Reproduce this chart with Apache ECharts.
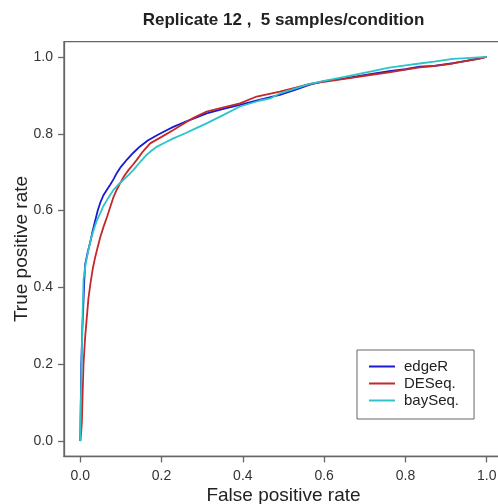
<!DOCTYPE html>
<html>
<head>
<meta charset="utf-8">
<script src="https://cdn.jsdelivr.net/npm/echarts@6/dist/echarts.min.js"></script>
<style>
html,body{margin:0;padding:0;background:#fff;}
#chart{width:498px;height:504px;}
</style>
</head>
<body>
<div id="chart"></div>
<script>
const titleText = 'Replicate 12 ,  5 samples/condition';
const xName = 'False positive rate';
const yName = 'True positive rate';
const tickValues = [0, 0.2, 0.4, 0.6, 0.8, 1.0];
const seriesNames = ['edgeR', 'DESeq.', 'baySeq.'];
const seriesColors = ['#1a1ad0', '#c42828', '#2cc4c8'];

const edgeR = [[0,0],[0.001,0.08],[0.0025,0.2],[0.005,0.29],[0.007,0.34],[0.01,0.42],[0.012,0.46],[0.018,0.49],[0.025,0.52],[0.03,0.545],[0.037,0.575],[0.043,0.6],[0.049,0.62],[0.057,0.64],[0.066,0.655],[0.074,0.668],[0.082,0.682],[0.09,0.698],[0.1,0.714],[0.115,0.733],[0.13,0.75],[0.147,0.767],[0.167,0.783],[0.19,0.797],[0.21,0.808],[0.229,0.818],[0.26,0.832],[0.28,0.84],[0.311,0.853],[0.35,0.864],[0.393,0.875],[0.44,0.888],[0.491,0.901],[0.53,0.915],[0.565,0.928],[0.6,0.937],[0.65,0.944],[0.713,0.955],[0.76,0.963],[0.8,0.968],[0.835,0.975],[0.87,0.977],[0.917,0.984],[0.95,0.99],[0.98,0.996],[1.0,1.0]];

const deseq = [[0,0],[0.002,0.02],[0.004,0.05],[0.006,0.13],[0.008,0.2],[0.012,0.27],[0.016,0.32],[0.02,0.37],[0.025,0.41],[0.031,0.45],[0.037,0.48],[0.043,0.505],[0.049,0.53],[0.057,0.557],[0.066,0.584],[0.074,0.61],[0.082,0.636],[0.09,0.655],[0.098,0.671],[0.108,0.69],[0.119,0.706],[0.13,0.72],[0.139,0.732],[0.155,0.755],[0.172,0.775],[0.2,0.792],[0.229,0.81],[0.26,0.83],[0.28,0.842],[0.311,0.858],[0.35,0.868],[0.393,0.879],[0.434,0.897],[0.491,0.91],[0.53,0.92],[0.565,0.93],[0.6,0.935],[0.65,0.943],[0.713,0.953],[0.76,0.96],[0.8,0.967],[0.835,0.973],[0.87,0.976],[0.917,0.983],[0.95,0.99],[0.98,0.995],[1,1]];

const bayseq = [[0,0],[0.001,0.08],[0.003,0.18],[0.004,0.245],[0.006,0.34],[0.008,0.42],[0.013,0.46],[0.02,0.497],[0.026,0.525],[0.033,0.55],[0.04,0.572],[0.049,0.593],[0.057,0.612],[0.066,0.628],[0.074,0.641],[0.082,0.654],[0.094,0.668],[0.106,0.68],[0.118,0.692],[0.131,0.706],[0.142,0.72],[0.152,0.732],[0.162,0.744],[0.172,0.753],[0.188,0.766],[0.21,0.778],[0.229,0.788],[0.26,0.802],[0.28,0.812],[0.311,0.827],[0.35,0.848],[0.393,0.871],[0.44,0.886],[0.467,0.892],[0.491,0.905],[0.53,0.918],[0.565,0.93],[0.6,0.938],[0.65,0.948],[0.713,0.962],[0.76,0.972],[0.8,0.978],[0.835,0.983],[0.87,0.988],[0.917,0.995],[0.95,0.997],[1,1]];

const seriesData = [edgeR, deseq, bayseq];
const FONT = '"Liberation Sans", Arial, Helvetica, sans-serif';

const chart = echarts.init(document.getElementById('chart'), null, {renderer: 'canvas'});

function axisCommon(name, isX) {
  return {
    type: 'value',
    min: -0.04,
    max: 1.04,
    name: name,
    nameLocation: 'middle',
    nameGap: isX ? 30 : 33,
    nameMoveOverlap: false,
    nameTextStyle: {fontFamily: FONT, fontSize: 19, color: '#222'},
    axisLine: {show: true, onZero: false, lineStyle: {color: '#666', width: 1.3}},
    axisTick: {show: true, customValues: tickValues, length: 6, lineStyle: {color: '#666', width: 1.3}},
    axisLabel: {
      show: true, customValues: tickValues, margin: isX ? 13 : 11,
      fontFamily: FONT, fontSize: 14, color: '#333',
      formatter: v => v.toFixed(1)
    },
    splitLine: {show: false}
  };
}

chart.setOption({
  animation: false,
  backgroundColor: '#fff',
  graphic: [{
    type: 'text', x: 283.5, y: 20,
    style: {text: titleText, fontFamily: FONT, fontSize: 17, fontWeight: 'bold',
            fill: '#222', textAlign: 'center', textVerticalAlign: 'middle'}
  }],
  grid: {left: 64, top: 41.6, width: 439, height: 414.8, show: true,
         borderColor: '#666', borderWidth: 1.3, backgroundColor: 'transparent',
         containLabel: false, outerBoundsMode: 'none'},
  xAxis: axisCommon(xName, true),
  yAxis: axisCommon(yName, false),
  legend: {
    orient: 'vertical', left: 357, top: 350,
    padding: [9, 15, 11, 12],
    itemGap: 2, itemWidth: 26, itemHeight: 2, icon: 'rect',
    borderColor: '#666', borderWidth: 1, backgroundColor: '#fff', borderRadius: 0,
    textStyle: {fontFamily: FONT, fontSize: 15, color: '#222', padding: [0, 0, 0, 4], lineHeight: 15},
    data: seriesNames
  },
  series: seriesNames.map((n, i) => ({
    name: n, type: 'line', data: seriesData[i], symbol: 'none', showSymbol: false,
    smooth: false, clip: true,
    lineStyle: {color: seriesColors[i], width: 1.8},
    itemStyle: {color: seriesColors[i]}
  }))
});
</script>
</body>
</html>
